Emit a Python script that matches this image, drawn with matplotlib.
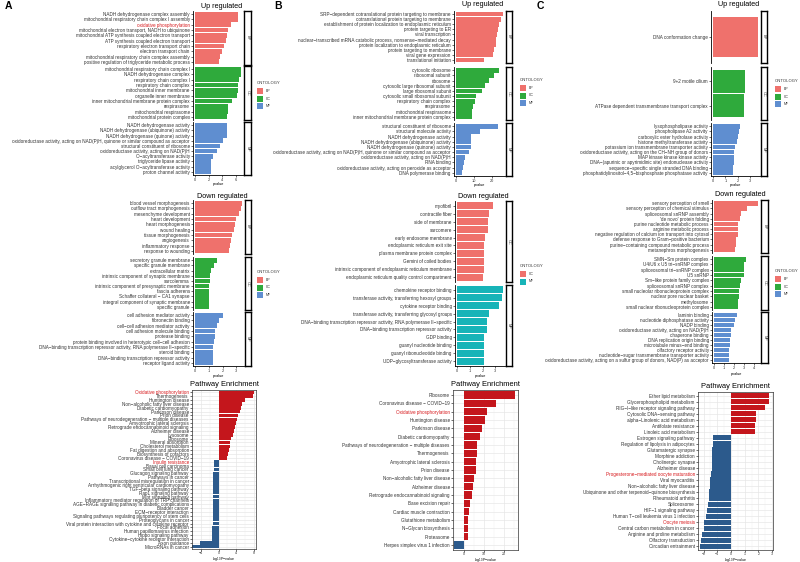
import matplotlib
matplotlib.use('Agg')
import matplotlib.pyplot as plt
from matplotlib.patches import Rectangle
from matplotlib.ticker import AutoMinorLocator

plt.rcParams['font.family'] = ['Liberation Sans', 'DejaVu Sans']

# ---------------- DATA ----------------
# Column A - Up regulated
A_up_bp_terms = ["NADH dehydrogenase complex assembly", "mitochondrial respiratory chain complex I assembly",
                 "oxidative phosphorylation", "mitochondrial electron transport, NADH to ubiquinone",
                 "mitochondrial ATP synthesis coupled electron transport", "ATP synthesis coupled electron transport",
                 "respiratory electron transport chain", "electron transport chain",
                 "mitochondrial respiratory chain complex assembly",
                 "positive regulation of triglyceride metabolic process"]
A_up_bp_vals = [6.4, 6.4, 5.3, 4.8, 4.7, 4.6, 4.2, 3.95, 3.7, 3.5]
A_up_cc_terms = ["mitochondrial respiratory chain complex I", "NADH dehydrogenase complex",
                 "respiratory chain complex I", "respiratory chain complex", "mitochondrial inner membrane",
                 "organelle inner membrane", "inner mitochondrial membrane protein complex", "respirasome",
                 "mitochondrial respirasome", "mitochondrial protein complex"]
A_up_cc_vals = [6.75, 6.75, 6.45, 6.3, 6.3, 6.25, 5.5, 4.9, 4.8, 4.7]
A_up_mf_terms = ["NADH dehydrogenase activity", "NADH dehydrogenase (ubiquinone) activity",
                 "NADH dehydrogenase (quinone) activity",
                 "oxidoreductase activity, acting on NAD(P)H, quinone or similar compound as acceptor",
                 "structural constituent of ribosome", "oxidoreductase activity, acting on NAD(P)H",
                 "O\u2212acyltransferase activity", "triglyceride lipase activity",
                 "acylglycerol O\u2212acyltransferase activity", "proton channel activity"]
A_up_mf_vals = [4.7, 4.7, 4.7, 4.1, 3.7, 3.3, 2.6, 2.35, 2.35, 2.3]

# Column A - Down regulated
A_dn_bp_terms = ["blood vessel morphogenesis", "outflow tract morphogenesis", "mesenchyme development",
                 "heart development", "heart morphogenesis", "wound healing", "tissue morphogenesis",
                 "angiogenesis", "inflammatory response", "response to wounding"]
A_dn_bp_vals = [3.4, 3.35, 3.2, 3.0, 2.9, 2.83, 2.7, 2.6, 2.52, 2.45]
A_dn_cc_terms = ["secretory granule membrane", "specific granule membrane", "extracellular matrix",
                 "intrinsic component of synaptic membrane", "sarcolemma",
                 "intrinsic component of presynaptic membrane", "fascia adherens",
                 "Schaffer collateral \u2212 CA1 synapse", "integral component of synaptic membrane",
                 "specific granule"]
A_dn_cc_vals = [1.6, 1.37, 1.13, 1.08, 1.08, 1.03, 1.03, 1.03, 1.03, 1.03]
A_dn_mf_terms = ["cell adhesion mediator activity", "fibronectin binding", "cell\u2212cell adhesion mediator activity",
                 "cell adhesion molecule binding", "protease binding",
                 "protein binding involved in heterotypic cell\u2212cell adhesion",
                 "DNA\u2212binding transcription repressor activity, RNA polymerase II\u2212specific",
                 "steroid binding", "DNA\u2212binding transcription repressor activity", "receptor ligand activity"]
A_dn_mf_vals = [2.04, 1.75, 1.56, 1.44, 1.44, 1.37, 1.32, 1.32, 1.32, 1.27]

# Column A - Pathway enrichment
A_path_terms = ["Oxidative phosphorylation", "Thermogenesis", "Huntington disease",
                "Non\u2212alcoholic fatty liver disease", "Diabetic cardiomyopathy", "Parkinson disease",
                "Prion disease", "Pathways of neurodegeneration \u2212 multiple diseases",
                "Amyotrophic lateral sclerosis", "Retrograde endocannabinoid signaling", "Alzheimer disease",
                "Lysosome", "Ribosome", "Mineral absorption", "Cholesterol metabolism",
                "Fat digestion and absorption", "Biosynthesis of cofactors", "Coronavirus disease \u2212 COVID\u221219",
                "Insulin resistance", "Basal cell carcinoma", "Small cell lung cancer",
                "Glucagon signaling pathway", "Pathways in cancer", "Transcriptional misregulation in cancer",
                "Arrhythmogenic right ventricular cardiomyopathy", "TGF\u2212beta signaling pathway",
                "Rap1 signaling pathway", "Wnt signaling pathway",
                "Inflammatory mediator regulation of TRP channels",
                "AGE\u2212RAGE signaling pathway in diabetic complications", "Bladder cancer",
                "ECM\u2212receptor interaction", "Signaling pathways regulating pluripotency of stem cells",
                "Proteoglycans in cancer", "Viral protein interaction with cytokine and cytokine receptor",
                "Focal adhesion", "Human papillomavirus infection", "Hippo signaling pathway",
                "Cytokine\u2212cytokine receptor interaction", "Axon guidance", "MicroRNAs in cancer"]
A_path_vals = [8.1, 7.9, 6.0, 5.4, 5.1, 4.75, 4.45, 4.15, 4.0, 3.7, 3.4, 3.2, 2.9, 2.65, 2.5, 2.35, 2.2, 1.9,
               -1.15, -1.15, -1.15, -1.18, -1.18, -1.2, -1.2, -1.22, -1.22, -1.25, -1.25, -1.28, -1.28,
               -1.3, -1.3, -1.33, -1.36, -1.4, -1.43, -1.46, -1.5, -4.3, -6.0]
A_path_red = ["Oxidative phosphorylation", "Insulin resistance"]

# Column B - Up regulated
B_up_bp_terms = ["SRP\u2212dependent cotranslational protein targeting to membrane",
                 "cotranslational protein targeting to membrane",
                 "establishment of protein localization to endoplasmic reticulum", "protein targeting to ER",
                 "viral transcription", "nuclear\u2212transcribed mRNA catabolic process, nonsense\u2212mediated decay",
                 "protein localization to endoplasmic reticulum", "protein targeting to membrane",
                 "viral gene expression", "translational initiation"]
B_up_bp_vals = [25.8, 24.9, 23.6, 23.0, 22.6, 22.1, 22.1, 20.8, 20.2, 15.5]
B_up_cc_terms = ["cytosolic ribosome", "ribosomal subunit", "ribosome", "cytosolic large ribosomal subunit",
                 "large ribosomal subunit", "cytosolic small ribosomal subunit", "respiratory chain complex",
                 "respirasome", "mitochondrial respirasome", "inner mitochondrial membrane protein complex"]
B_up_cc_vals = [24.0, 20.8, 18.3, 16.0, 14.2, 10.8, 10.2, 9.2, 8.7, 8.5]
B_up_mf_terms = ["structural constituent of ribosome", "structural molecule activity", "NADH dehydrogenase activity",
                 "NADH dehydrogenase (ubiquinone) activity", "NADH dehydrogenase (quinone) activity",
                 "oxidoreductase activity, acting on NAD(P)H, quinone or similar compound as acceptor",
                 "oxidoreductase activity, acting on NAD(P)H", "RNA binding",
                 "oxidoreductase activity, acting on peroxide as acceptor", "DNA polymerase binding"]
B_up_mf_vals = [23.0, 13.0, 7.9, 7.9, 7.9, 7.0, 5.1, 4.5, 3.6, 3.2]

# Column B - Down regulated
B_dn_cc_terms = ["myofibril", "contractile fiber", "side of membrane", "sarcomere", "early endosome membrane",
                 "endoplasmic reticulum exit site", "plasma membrane protein complex", "Gemini of coiled bodies",
                 "intrinsic component of endoplasmic reticulum membrane",
                 "endoplasmic reticulum quality control compartment"]
B_dn_cc_vals = [2.78, 2.52, 2.44, 2.39, 2.2, 2.12, 2.07, 2.07, 2.07, 2.02]
B_dn_mf_terms = ["chemokine receptor binding", "transferase activity, transferring hexosyl groups",
                 "cytokine receptor binding", "transferase activity, transferring glycosyl groups",
                 "DNA\u2212binding transcription repressor activity, RNA polymerase II\u2212specific",
                 "DNA\u2212binding transcription repressor activity", "GDP binding", "guanyl nucleotide binding",
                 "guanyl ribonucleotide binding", "UDP\u2212glycosyltransferase activity"]
B_dn_mf_vals = [3.58, 3.5, 3.26, 2.52, 2.31, 2.31, 2.12, 2.12, 2.12, 2.12]

# Column B - Pathway enrichment
B_path_terms = ["Ribosome", "Coronavirus disease \u2212 COVID\u221219", "Oxidative phosphorylation",
                "Huntington disease", "Parkinson disease", "Diabetic cardiomyopathy",
                "Pathways of neurodegeneration \u2212 multiple diseases", "Thermogenesis",
                "Amyotrophic lateral sclerosis", "Prion disease", "Non\u2212alcoholic fatty liver disease",
                "Alzheimer disease", "Retrograde endocannabinoid signaling", "Base excision repair",
                "Cardiac muscle contraction", "Glutathione metabolism", "N\u2212Glycan biosynthesis",
                "Proteasome", "Herpes simplex virus 1 infection"]
B_path_vals = [25.5, 16.0, 11.3, 10.3, 9.2, 7.8, 6.5, 6.3, 6.0, 5.8, 5.2, 4.5, 4.0, 2.8, 2.5, 1.8, 1.8, 1.8,
               -5.2]
B_path_red = ["Oxidative phosphorylation"]

# Column C - Up regulated
C_up_bp_terms = ["DNA conformation change"]
C_up_bp_vals = [3.67]
C_up_cc_terms = ["9+2 motile cilium", "ATPase dependent transmembrane transport complex"]
C_up_cc_vals = [2.6, 2.55]
C_up_mf_terms = ["lysophospholipase activity", "phospholipase A2 activity", "carboxylic ester hydrolase activity",
                 "histone methyltransferase activity", "potassium ion transmembrane transporter activity",
                 "oxidoreductase activity, acting on the CH\u2212NH group of donors",
                 "MAP kinase kinase kinase activity",
                 "DNA\u2212(apurinic or apyrimidinic site) endonuclease activity",
                 "sequence\u2212specific single stranded DNA binding",
                 "phosphatidylinositol\u22124,5\u2212bisphosphate phosphatase activity"]
C_up_mf_vals = [2.2, 2.1, 2.0, 1.93, 1.8, 1.75, 1.72, 1.69, 1.66, 1.64]

# Column C - Down regulated
C_dn_bp_terms = ["sensory perception of smell", "sensory perception of chemical stimulus",
                 "spliceosomal snRNP assembly", "'de novo' protein folding",
                 "purine nucleotide metabolic process", "arginine metabolic process",
                 "negative regulation of calcium ion transport into cytosol",
                 "defense response to Gram\u2212positive bacterium",
                 "purine\u2212containing compound metabolic process", "metanephros morphogenesis"]
C_dn_bp_vals = [4.34, 3.3, 2.7, 2.6, 2.4, 2.4, 2.4, 2.2, 2.15, 2.1]
C_dn_cc_terms = ["SMN\u2212Sm protein complex", "U4/U6 x U5 tri\u2212snRNP complex", "spliceosomal tri\u2212snRNP complex",
                 "U5 snRNP", "Sm\u2212like protein family complex", "spliceosomal snRNP complex",
                 "small nucleolar ribonucleoprotein complex", "nuclear pore nuclear basket", "methylosome",
                 "small nuclear ribonucleoprotein complex"]
C_dn_cc_vals = [3.2, 3.0, 3.0, 2.95, 2.7, 2.6, 2.5, 2.47, 2.4, 2.38]
C_dn_mf_terms = ["laminin binding", "nucleotide diphosphatase activity", "NADP binding",
                 "oxidoreductase activity, acting on NAD(P)H", "chaperone binding", "DNA replication origin binding",
                 "microtubule minus\u2212end binding", "olfactory receptor activity",
                 "nucleotide\u2212sugar transmembrane transporter activity",
                 "oxidoreductase activity, acting on a sulfur group of donors, NAD(P) as acceptor"]
C_dn_mf_vals = [2.25, 2.1, 1.94, 1.7, 1.63, 1.6, 1.53, 1.5, 1.47, 1.44]

# Column C - Pathway enrichment
C_path_terms = ["Ether lipid metabolism", "Glycerophospholipid metabolism", "RIG\u2212I\u2212like receptor signaling pathway",
                "Cytosolic DNA\u2212sensing pathway", "alpha\u2212Linolenic acid metabolism", "Antifolate resistance",
                "Linoleic acid metabolism", "Estrogen signaling pathway", "Regulation of lipolysis in adipocytes",
                "Glutamatergic synapse", "Morphine addiction", "Cholinergic synapse", "Alzheimer disease",
                "Progesterone\u2212mediated oocyte maturation", "Viral myocarditis",
                "Non\u2212alcoholic fatty liver disease", "Ubiquinone and other terpenoid\u2212quinone biosynthesis",
                "Rheumatoid arthritis", "Spliceosome", "HIF\u22121 signaling pathway",
                "Human T\u2212cell leukemia virus 1 infection", "Oocyte meiosis",
                "Central carbon metabolism in cancer", "Arginine and proline metabolism",
                "Olfactory transduction", "Circadian entrainment"]
C_path_vals = [2.8, 2.8, 2.45, 1.85, 1.8, 1.75, 1.75, -1.3, -1.35, -1.37, -1.39, -1.4, -1.42, -1.45, -1.5,
               -1.55, -1.57, -1.6, -1.7, -1.78, -1.85, -1.95, -2.0, -2.1, -2.2, -2.25]
C_path_red = ["Progesterone\u2212mediated oocyte maturation", "Oocyte meiosis"]

ONTO = ["BP", "CC", "MF"]
# ---------------- STYLE ----------------
W, H = 800, 562
fig = plt.figure(figsize=(8, 5.62), dpi=100)

RED, GREEN, BLUE = '#EF716C', '#2FAA3C', '#5F8ED0'
TEAL = '#17B4B8'
PRED, PBLUE = '#C4161C', '#2C5A8C'
LRED = '#D7191C'
TXT = '#333333'
LBL = 3.3


def box(x0, y0, x1, y1):
    return [x0 / W, 1 - y1 / H, (x1 - x0) / W, (y1 - y0) / H]


def go_panel(x0, x1, sx1, facets, names, vals_list, terms_list, colors, xticks,
             title, title_y, xlab_y, red_terms=()):
    vmax = max(max(v) for v in vals_list)
    lo, hi = -0.05 * vmax, 1.05 * vmax
    n = len(facets)
    for i in range(n):
        fy0, fy1 = facets[i]
        vals, terms = vals_list[i], terms_list[i]
        ax = fig.add_axes(box(x0, fy0, x1, fy1))
        pos = list(range(len(vals)))
        ax.barh(pos, vals, height=0.92, color=colors[i], edgecolor='none')
        ax.set_ylim(len(vals) - 0.4, -0.6)
        ax.set_xlim(lo, hi)
        ax.set_yticks(pos)
        ax.set_yticklabels(terms, fontsize=LBL, color=TXT)
        for t in ax.get_yticklabels():
            if t.get_text() in red_terms:
                t.set_color(LRED)
        ax.tick_params(axis='y', length=1.5, width=0.4, pad=0.8)
        for s in ['top', 'right']:
            ax.spines[s].set_visible(False)
        ax.spines['left'].set_linewidth(0.6)
        if i == n - 1:
            ax.set_xticks(xticks)
            ax.set_xticklabels([str(t) for t in xticks], fontsize=2.8, color=TXT)
            ax.tick_params(axis='x', length=1.5, width=0.4, pad=0.6)
            ax.spines['bottom'].set_linewidth(0.6)
        else:
            ax.set_xticks([])
            ax.spines['bottom'].set_visible(False)
        sax = fig.add_axes(box(x1 + 1, fy0, sx1, fy1))
        sax.set_xticks([])
        sax.set_yticks([])
        for s in sax.spines.values():
            s.set_linewidth(1.0)
        sax.text(0.5, 0.5, names[i], rotation=270, ha='center', va='center', fontsize=2.8,
                 transform=sax.transAxes, color=TXT)
    fig.text(((x0 + sx1) / 2) / W, 1 - title_y / H, title, ha='center', va='center', fontsize=5.2)
    fig.text(((x0 + x1) / 2) / W, 1 - xlab_y / H, 'pvalue', ha='center', va='center', fontsize=2.8)


def legend(x, y, items):
    fig.text(x / W, 1 - y / H, 'ONTOLOGY', fontsize=3, va='center', ha='left', color=TXT)
    for k, (lab, col) in enumerate(items):
        ky = y + 8 + k * 7.5
        fig.add_artist(Rectangle((x / W, 1 - (ky + 3) / H), 6 / W, 6 / H, transform=fig.transFigure,
                                 facecolor=col, edgecolor='none'))
        fig.text((x + 8.5) / W, 1 - ky / H, lab, fontsize=2.5, va='center', ha='left', color=TXT)


def path_panel(x0, y0, x1, y1, terms, vals, xlim, xticks, red_terms, title_y, xlab_y, bar_h):
    ax = fig.add_axes(box(x0, y0, x1, y1))
    n = len(vals)
    pos = list(range(n))
    cols = [PRED if v > 0 else PBLUE for v in vals]
    ax.barh(pos, vals, height=bar_h, color=cols, edgecolor='none', zorder=2)
    ax.set_ylim(n - 0.4, -0.6)
    ax.set_xlim(*xlim)
    ax.set_yticks(pos)
    ax.set_yticklabels(terms, fontsize=LBL, color=TXT)
    for t in ax.get_yticklabels():
        if t.get_text() in red_terms:
            t.set_color(LRED)
    ax.set_xticks(xticks)
    ax.set_xticklabels([str(t).replace('-', '\u2212') for t in xticks], fontsize=2.6, color=TXT)
    ax.xaxis.set_minor_locator(AutoMinorLocator(2))
    ax.grid(True, which='major', color='#E5E5E5', lw=0.45, zorder=0)
    ax.grid(True, which='minor', axis='x', color='#F0F0F0', lw=0.3, zorder=0)
    ax.set_axisbelow(True)
    ax.tick_params(axis='y', length=1.5, width=0.4, pad=0.8)
    ax.tick_params(axis='x', length=1.2, width=0.4, pad=0.4)
    ax.tick_params(axis='x', which='minor', length=0)
    for s in ax.spines.values():
        s.set_linewidth(0.5)
        s.set_color('#333333')
    fig.text(((x0 + x1) / 2) / W, 1 - title_y / H, 'Pathway Enrichment', ha='center', va='center', fontsize=5.4)
    fig.text(((x0 + x1) / 2) / W, 1 - xlab_y / H, 'log$_{10}$P\u2212value', ha='center', va='center',
             fontsize=2.6)


# ---------------- Column A ----------------
go_panel(193, 243, 251, [(11, 65), (66, 120), (122, 175)], ONTO,
         [A_up_bp_vals, A_up_cc_vals, A_up_mf_vals], [A_up_bp_terms, A_up_cc_terms, A_up_mf_terms],
         [RED, GREEN, BLUE], [0, 2, 4, 6], 'Up regulated', 6, 184, red_terms=["oxidative phosphorylation"])
legend(257, 83, [("BP", RED), ("CC", GREEN), ("MF", BLUE)])
go_panel(193, 244, 251, [(200, 254), (257, 310), (312, 366)], ONTO,
         [A_dn_bp_vals, A_dn_cc_vals, A_dn_mf_vals], [A_dn_bp_terms, A_dn_cc_terms, A_dn_mf_terms],
         [RED, GREEN, BLUE], [0, 1, 2, 3], 'Down regulated', 196, 376)
legend(257, 272, [("BP", RED), ("CC", GREEN), ("MF", BLUE)])
path_panel(192, 390, 256, 549, A_path_terms, A_path_vals, (-6.05, 8.5), [-4, 0, 4, 8], A_path_red, 385, 559, 0.92)

# ---------------- Column B ----------------
go_panel(454, 505, 512, [(11, 63), (67, 120), (123, 176)], ONTO,
         [B_up_bp_vals, B_up_cc_vals, B_up_mf_vals], [B_up_bp_terms, B_up_cc_terms, B_up_mf_terms],
         [RED, GREEN, BLUE], [0, 10, 20], 'Up regulated', 5, 185)
legend(520, 80, [("BP", RED), ("CC", GREEN), ("MF", BLUE)])
go_panel(455, 505, 512, [(201, 282), (285, 366)], ["CC", "MF"],
         [B_dn_cc_vals, B_dn_mf_vals], [B_dn_cc_terms, B_dn_mf_terms],
         [RED, TEAL], [0, 1, 2, 3], 'Down regulated', 196, 376)
legend(520, 266, [("CC", RED), ("MF", TEAL)])
path_panel(453, 390, 518, 550, B_path_terms, B_path_vals, (-5.5, 27), [0, 10, 20], B_path_red, 385, 559.5, 0.85)

# ---------------- Column C ----------------
go_panel(711, 760, 767, [(11, 63), (67, 120), (123, 176)], ONTO,
         [C_up_bp_vals, C_up_cc_vals, C_up_mf_vals], [C_up_bp_terms, C_up_cc_terms, C_up_mf_terms],
         [RED, GREEN, BLUE], [0, 1, 2, 3], 'Up regulated', 5, 185)
legend(775, 81, [("BP", RED), ("CC", GREEN), ("MF", BLUE)])
go_panel(712, 760, 768, [(200, 253), (256, 310), (312, 363)], ONTO,
         [C_dn_bp_vals, C_dn_cc_vals, C_dn_mf_vals], [C_dn_bp_terms, C_dn_cc_terms, C_dn_mf_terms],
         [RED, GREEN, BLUE], [0, 1, 2, 3, 4], 'Down regulated', 195, 374)
legend(775, 271, [("BP", RED), ("CC", GREEN), ("MF", BLUE)])
path_panel(698, 392, 773, 550, C_path_terms, C_path_vals, (-2.41, 3.07), [-2, -1, 0, 1, 2, 3], C_path_red,
           386, 559.5, 0.88)

# Panel letters
fig.text(5 / W, 1 - 6 / H, 'A', fontsize=7.5, fontweight='bold', va='center', ha='left')
fig.text(274 / W, 1 - 6 / H, 'B', fontsize=7.5, fontweight='bold', va='center', ha='left')
fig.text(537 / W, 1 - 6 / H, 'C', fontsize=7.5, fontweight='bold', va='center', ha='left')

fig.savefig('out.png', dpi=100, facecolor='white')
